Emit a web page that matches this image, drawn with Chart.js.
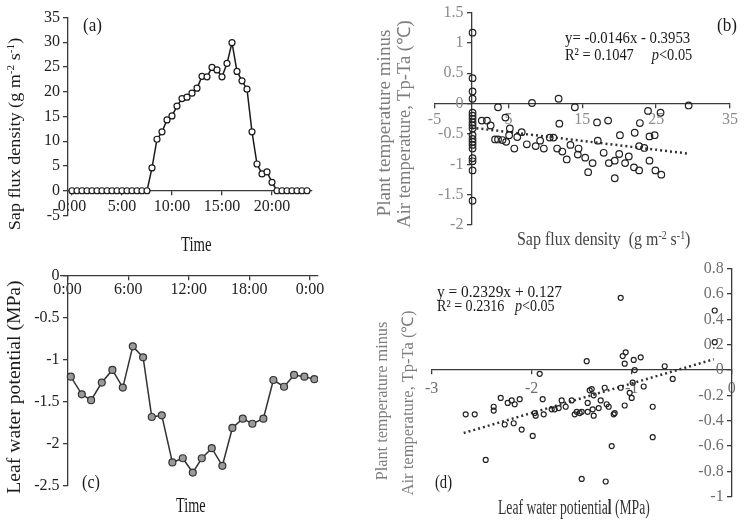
<!DOCTYPE html>
<html>
<head>
<meta charset="utf-8">
<title>Sap flux density, leaf water potential and Tp-Ta</title>
<script src="https://cdn.jsdelivr.net/npm/chart.js@4.4.1/dist/chart.umd.min.js"></script>
<style>
  html, body { margin: 0; padding: 0; background: #fff; }
  #page { position: relative; width: 747px; height: 520px; overflow: hidden; }
  #page canvas { position: absolute; left: 0; top: 0; }
  .lbl { position: absolute; font-family: "Liberation Serif", "Times New Roman", serif; white-space: nowrap; line-height: 1; }
  .lbl sup { font-size: 62%; vertical-align: 0.5em; line-height: 0; }
</style>
</head>
<body>
<div id="page">
  <canvas id="chartA" width="747" height="520"></canvas>
  <canvas id="chartB" width="747" height="520"></canvas>
  <canvas id="chartC" width="747" height="520"></canvas>
  <canvas id="chartD" width="747" height="520"></canvas>
</div>
<script>
// ---- (a) sap flux density over the day, half-hourly ----
const sapHours = [0, 0.5, 1, 1.5, 2, 2.5, 3, 3.5, 4, 4.5, 5, 5.5, 6, 6.5, 7, 7.5,
  8, 8.5, 9, 9.5, 10, 10.5, 11, 11.5, 12, 12.5, 13, 13.5, 14, 14.5, 15, 15.5,
  16, 16.5, 17, 17.5, 18, 18.5, 19, 19.5, 20, 20.5, 21, 21.5, 22, 22.5, 23, 23.5];
const sapFlux = [0, 0, 0, 0, 0, 0, 0, 0, 0, 0, 0, 0, 0, 0, 0, 0,
  4.6, 10.4, 11.9, 14.3, 15.1, 17.1, 18.6, 18.9, 19.7, 20.7, 23.1, 23.0, 24.9, 24.4, 23.0, 25.7,
  29.9, 24.1, 22.2, 20.5, 11.9, 5.4, 3.4, 3.8, 1.7, 0, 0, 0, 0, 0, 0, 0];
const aTimeTicks = [0, 5, 10, 15, 20];
const aTimeLabels = ['0:00', '5:00', '10:00', '15:00', '20:00'];
const aFluxTicks = [-5, 0, 5, 10, 15, 20, 25, 30, 35];

// ---- (b) Tp-Ta against sap flux density ----
const bSap = [0.15, 0.15, 0.15, 0.15, 0.15, 0.15, 0.15, 0.15, 0.15, 0.15,
  0.15, 0.15, 0.15, 0.15, 0.15, 0.15, 0.15, 0.15, 0.15,
  1.4, 2.1, 2.6, 3.6, 4.6, 5.2, 3.2, 3.6, 4.2, 4.7,
  5.8, 5.1, 6.2, 6.8, 7.5, 8.2, 8.7, 9.3, 9.8, 10.6,
  11.1, 11.8, 11.9, 11.6, 12.3, 12.9, 14.0, 13.4, 14.5, 14.4,
  15.4, 15.8, 16.4, 17.0, 17.1, 17.9, 18.5, 18.6, 19.4, 19.4,
  20.0, 20.1, 20.8, 21.3, 22.0, 22.1, 22.7, 22.7, 22.8, 23.4,
  23.9, 24.1, 24.1, 24.8, 24.9, 25.6, 25.7, 29.4];
const bTemp = [1.17, 0.42, 0.2, 0.08, -0.15, -0.2, -0.25, -0.31, -0.36, -0.41,
  -0.52, -0.58, -0.63, -0.68, -0.74, -0.9, -0.95, -1.1, -1.6,
  -0.28, -0.28, -0.36, -0.06, -0.23, -0.41, -0.59, -0.59, -0.6, -0.63,
  -0.74, -0.52, -0.55, -0.47, -0.67, 0.01, -0.7, -0.61, -0.74, -0.56,
  -0.56, 0.08, -0.33, -0.74, -0.79, -0.92, -0.06, -0.68, -0.74, -0.84,
  -0.89, -1.13, -0.98, -0.31, -0.61, -0.81, -0.28, -0.98, -0.94, -1.23,
  -0.83, -0.52, -0.98, -0.87, -1.05, -0.48, -0.7, -1.1, -0.32, -0.73,
  -0.12, -0.54, -0.94, -0.52, -1.1, -0.15, -1.17, -0.03];
const bTrendX = [0, 29.4];
const bTrendY = [-0.395, -0.824];
const bSapTicks = [-5, 5, 15, 25, 35];
const bTempTicks = [-2, -1.5, -1, -0.5, 0, 0.5, 1, 1.5];

// ---- (c) leaf water potential over the day ----
const lwpHours = [0.32, 1.41, 2.33, 3.39, 4.44, 5.47, 6.46, 7.48, 8.34, 9.33, 10.38, 11.41, 12.4,
  13.29, 14.28, 15.33, 16.32, 17.35, 18.3, 19.39, 20.38, 21.44, 22.43, 23.45, 24.44];
const lwp = [-1.20, -1.41, -1.48, -1.27, -1.12, -1.33, -0.84, -0.97, -1.68, -1.66, -2.22, -2.17, -2.34,
  -2.17, -2.05, -2.26, -1.81, -1.70, -1.76, -1.70, -1.24, -1.32, -1.18, -1.20, -1.23];
const cTimeTicks = [0, 6, 12, 18, 24];
const cTimeLabels = ['0:00', '6:00', '12:00', '18:00', '0:00'];
const cLwpTicks = [-2.5, -2, -1.5, -1, -0.5, 0];

// ---- (d) Tp-Ta against leaf water potential ----
const dPsi = [-2.66, -2.57, -2.46, -2.38, -2.38, -2.31, -2.27, -2.24, -2.2, -2.18,
  -2.17, -2.12, -2.1, -1.99, -1.92, -1.97, -1.96, -1.89, -1.88, -1.8,
  -1.77, -1.7, -1.73, -1.66, -1.6, -1.57, -1.52, -1.55, -1.5, -1.45,
  -1.44, -1.44, -1.42, -1.4, -1.39, -1.38, -1.38, -1.33, -1.31, -1.27,
  -1.25, -1.23, -1.18, -1.17, -1.5, -1.26, -1.2, -1.11, -1.11, -1.09,
  -1.06, -1.07, -1.07, -1.02, -1.0, -0.99, -0.98, -0.97, -0.91, -0.88,
  -0.79, -0.79, -0.67, -0.59, -0.17, -0.17];
const dTemp = [-0.35, -0.35, -0.71, -0.29, -0.32, -0.22, -0.43, -0.26, -0.24, -0.42,
  -0.27, -0.23, -0.47, -0.52, -0.03, -0.34, -0.36, -0.23, -0.35, -0.31,
  -0.31, -0.24, -0.3, -0.29, -0.24, -0.35, -0.34, -0.33, -0.33, 0.07,
  -0.26, -0.33, -0.16, -0.15, -0.31, -0.36, -0.2, -0.3, -0.24, -0.14,
  -0.27, -0.29, -0.35, -0.34, -0.86, -0.88, -0.6, 0.57, -0.14, 0.11,
  0.14, 0.05, -0.28, -0.18, -0.22, -0.1, 0.08, 0.0, 0.1, -0.13,
  -0.29, -0.53, 0.03, -0.07, 0.47, 0.22];
const dTrendX = [-2.68, -0.18];
const dTrendY = [-0.497, 0.085];
const dPsiTicks = [-3, -2, -1, 0];
const dTempTicks = [-1, -0.8, -0.6, -0.4, -0.2, 0, 0.2, 0.4, 0.6, 0.8];

const serif = 'Liberation Serif';
const axisColor = '#3a3a3a';
// y labels of a crossing axis sit right on the line, so push them off with an en space
const gap = '\u2002';

function toPoints(xs, ys) {
  return xs.map((x, i) => ({ x: x, y: ys[i] }));
}

// Axis with fixed tick values; pos is an object like {y: 0} so axes can cross
function makeScale(min, max, pos, values, labels, color, pad) {
  return {
    type: 'linear',
    min: min,
    max: max,
    position: pos,
    border: { display: true, color: axisColor, width: 1.3 },
    grid: { display: true, drawOnChartArea: false, drawTicks: true, tickLength: 4, color: axisColor, lineWidth: 1.3 },
    ticks: {
      color: color,
      font: { family: serif, size: 16 },
      padding: pad,
      autoSkip: false,
      maxRotation: 0,
      callback: (v, i) => labels[i]
    },
    afterBuildTicks: (s) => { s.ticks = values.map(v => ({ value: v })); }
  };
}

function yLabels(values) {
  return values.map(v => String(v) + gap);
}

function baseOptions(padding, x, y) {
  return {
    responsive: false,
    animation: false,
    events: [],
    layout: { padding: padding },
    plugins: { legend: { display: false }, tooltip: { enabled: false } },
    scales: { x: x, y: y }
  };
}

// (a)
new Chart(document.getElementById('chartA'), {
  type: 'scatter',
  data: {
    datasets: [{
      data: toPoints(sapHours, sapFlux),
      showLine: true,
      borderColor: '#1a1a1a',
      borderWidth: 1.5,
      pointRadius: 3,
      pointBackgroundColor: '#ffffff',
      pointBorderColor: '#1a1a1a',
      pointBorderWidth: 1.2
    }]
  },
  options: baseOptions({ left: 68, top: 17.4, right: 435, bottom: 304.5 },
    makeScale(-0.4, 24, { y: 0 }, aTimeTicks, aTimeLabels, '#222', 2),
    makeScale(-5, 35, { x: -0.4 }, aFluxTicks, yLabels(aFluxTicks), '#222', 3))
});

// (b)
new Chart(document.getElementById('chartB'), {
  type: 'scatter',
  data: {
    datasets: [{
      data: toPoints(bSap, bTemp),
      pointRadius: 3.3,
      pointBackgroundColor: 'rgba(0,0,0,0)',
      pointBorderColor: '#222',
      pointBorderWidth: 1.2
    }, {
      data: toPoints(bTrendX, bTrendY),
      showLine: true,
      pointRadius: 0,
      borderColor: '#333',
      borderWidth: 2.5,
      borderDash: [2, 3]
    }]
  },
  options: baseOptions({ left: 434.5, top: 8.5, right: 17, bottom: 295 },
    makeScale(-5, 35, { y: 0 }, bSapTicks, bSapTicks.map(String), '#8a8a8a', 3),
    makeScale(-2, 1.5, { x: 0 }, bTempTicks, yLabels(bTempTicks), '#8a8a8a', 3))
});

// (c)
new Chart(document.getElementById('chartC'), {
  type: 'scatter',
  data: {
    datasets: [{
      data: toPoints(lwpHours, lwp),
      showLine: true,
      borderColor: '#333',
      borderWidth: 1.5,
      pointRadius: 3.5,
      pointBackgroundColor: '#9a9a9a',
      pointBorderColor: '#333',
      pointBorderWidth: 1.2
    }]
  },
  options: baseOptions({ left: 61, top: 275.7, right: 429, bottom: 34 },
    makeScale(-0.65, 24.8, { y: 0 }, cTimeTicks, cTimeLabels, '#222', 0),
    makeScale(-2.5, 0, { x: 0 }, cLwpTicks, yLabels(cLwpTicks), '#222', 3))
});

// (d)
new Chart(document.getElementById('chartD'), {
  type: 'scatter',
  data: {
    datasets: [{
      data: toPoints(dPsi, dTemp),
      pointRadius: 2.5,
      pointBackgroundColor: 'rgba(0,0,0,0)',
      pointBorderColor: '#222',
      pointBorderWidth: 1.2
    }, {
      data: toPoints(dTrendX, dTrendY),
      showLine: true,
      pointRadius: 0,
      borderColor: '#333',
      borderWidth: 2.5,
      borderDash: [2, 3]
    }]
  },
  options: baseOptions({ left: 431.7, top: 268.7, right: 15.3, bottom: 23.3 },
    makeScale(-3, 0, { y: 0 }, dPsiTicks, dPsiTicks.map(String), '#6e6e6e', 5),
    makeScale(-1, 0.8, { x: 0 }, dTempTicks, yLabels(dTempTicks), '#6e6e6e', 3))
});

// Titles, panel letters and regression notes as page text.
// Horizontal: (x, y) = left edge, vertical centre. Rotated: (x, y) = centre.
// len = the length in px the text covers in the reference.
const page = document.getElementById('page');
function addLabel(html, x, y, size, len, color, rotated) {
  const el = document.createElement('div');
  el.className = 'lbl';
  el.innerHTML = html;
  el.style.fontSize = size + 'px';
  el.style.color = color;
  page.appendChild(el);
  const k = len / el.offsetWidth;
  el.style.left = x + 'px';
  el.style.top = y + 'px';
  if (rotated) {
    el.style.transform = 'translate(-50%, -50%) rotate(-90deg) scaleX(' + k + ')';
  } else {
    el.style.transformOrigin = '0 50%';
    el.style.transform = 'translateY(-50%) scaleX(' + k + ')';
  }
}

const grey = '#7d7d7d';
const dark = '#1a1a1a';
const unitsHtml = '(g m<sup>-2</sup> s<sup>-1</sup>)';

addLabel('(a)', 83, 25, 18, 19, dark);
addLabel('Sap flux density ' + unitsHtml, 14, 133.5, 17, 193, dark, true);
addLabel('Time', 181, 244, 20, 31, dark);

addLabel('(b)', 717, 25, 18, 20, dark);
addLabel('y= -0.0146x - 0.3953', 565, 37, 17, 125, dark);
addLabel('R² = 0.1047&nbsp;&nbsp;&nbsp;&nbsp;&nbsp;<i>p</i>&lt;0.05', 565, 54, 17, 127, dark);
addLabel('Plant temperature minus', 384, 123, 18, 187, grey, true);
addLabel('Air temperature, Tp-Ta (℃)', 404, 123.5, 18, 207, grey, true);
addLabel('Sap flux density&nbsp;&nbsp;' + unitsHtml, 517, 238, 19, 173, '#444');

addLabel('(c)', 82, 482, 18, 18, dark);
addLabel('Leaf water potential (MPa)', 12.5, 386.5, 19, 213, dark, true);
addLabel('Time', 176, 505, 20, 30, dark);

addLabel('(d)', 435, 482, 18, 17, dark);
addLabel('y = 0.2329x + 0.127', 437, 291.7, 16, 125, dark);
addLabel('R² = 0.2316&nbsp;&nbsp;&nbsp;<i>p</i>&lt;0.05', 437, 306, 16, 118, dark);
addLabel('Plant temperature minus', 381.5, 401, 16, 158, grey, true);
addLabel('Air temperature, Tp-Ta (℃)', 407.5, 402.5, 16, 185, grey, true);
addLabel('Leaf water potientia<b>l</b> (MPa)', 498, 507, 20, 152, '#333');
</script>
</body>
</html>
